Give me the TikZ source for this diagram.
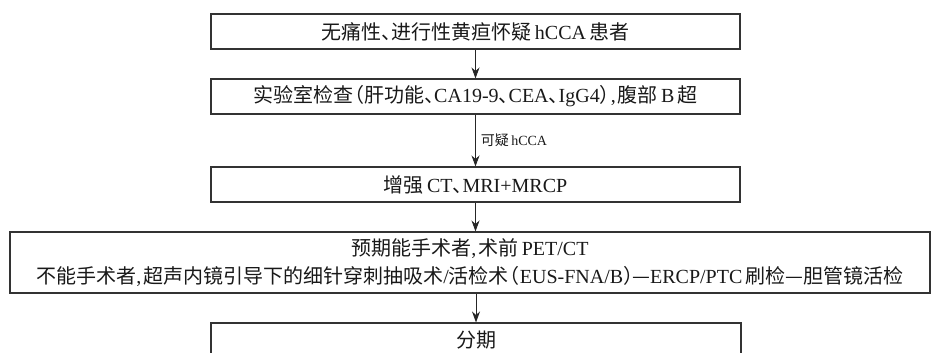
\documentclass[tikz,border=0pt]{standalone}
\usepackage{fontspec}
\setmainfont{Liberation Serif}
\newfontfamily\cjkf{Noto Sans CJK SC}
\newcommand\zh[1]{{\cjkf #1}}
\newcommand\dn{\zh{、}\kern-10pt}
\newcommand\lp{\kern-9pt\zh{（}}
\newcommand\rp{\zh{）}\kern-9pt}
\usetikzlibrary{arrows.meta}
\tikzset{
  box/.style={draw=black!80, line width=1.1pt, inner sep=0pt, align=center,
    text=black!90, font=\fontsize{20}{28}\selectfont},
  flow/.style={draw=black!85, line width=0.9pt, -{Stealth[length=11pt,width=8pt]}},
  lbl/.style={font=\fontsize{14}{16}\selectfont, anchor=west, inner sep=0pt, text=black!90}
}
\begin{document}
\begin{tikzpicture}[x=1pt,y=-1pt]
\useasboundingbox (0,0) rectangle (931,353);
\clip (0,0) rectangle (931,353);
\node[box, minimum width=529pt, minimum height=35pt] (b1) at (475.5,31.5)
  {\zh{无痛性}\dn\zh{进行性黄疸怀疑}\,hCCA\,\zh{患者}};
\node[box, minimum width=529pt, minimum height=35pt] (b2) at (475.5,96.5)
  {\zh{实验室检查}\lp\zh{肝功能}\dn CA19-9\dn CEA\dn IgG4\rp,\kern2pt\zh{腹部}\,B\,\zh{超}};
\node[box, minimum width=529pt, minimum height=35pt] (b3) at (475.5,184.5)
  {\zh{增强}\,CT\dn MRI+MRCP};
\node[box, minimum width=920pt, minimum height=61pt] (b4) at (470,262.5)
  {\zh{预期能手术者},\kern2pt\zh{术前}\,PET/CT\\
   \zh{不能手术者},\kern2pt\zh{超声内镜引导下的细针穿刺抽吸术}/\zh{活检术}\lp EUS-FNA/B\rp\kern-2pt\zh{—}ERCP/PTC\,\zh{刷检—胆管镜活检}};
\node[box, minimum width=530pt, minimum height=34pt] (b5) at (476,340)
  {\zh{分期}};
\draw[flow] (b1) -- (b2);
\draw[flow] (b2) -- (b3) node[lbl, pos=0.5, xshift=5pt] {\zh{可疑}\,hCCA};
\draw[flow] (b3.south) -- (b3.south |- b4.north);
\draw[flow] (b4.south -| b5.north) -- (b5);
\end{tikzpicture}
\end{document}
